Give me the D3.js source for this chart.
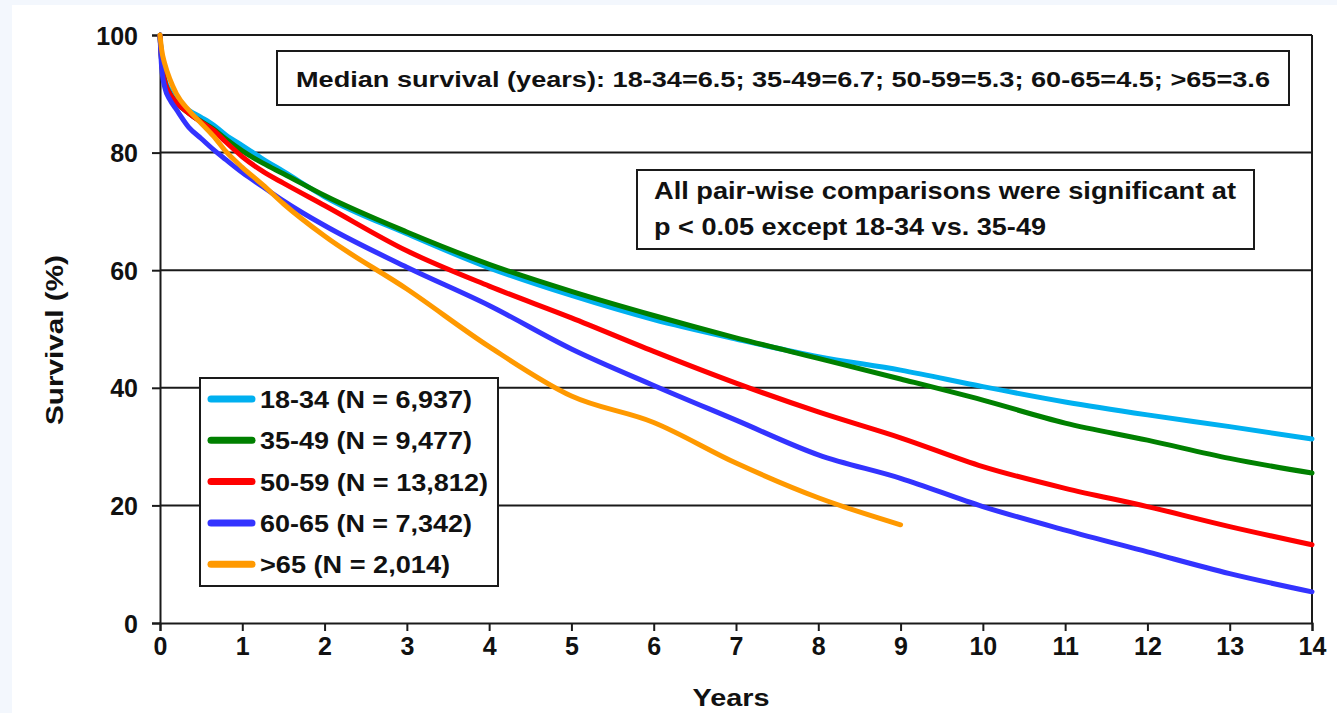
<!DOCTYPE html>
<html>
<head>
<meta charset="utf-8">
<script src="https://cdn.jsdelivr.net/npm/d3@7"></script>
<style>
  html, body { margin: 0; padding: 0; background: #f3f7fd; }
  svg { display: block; }
  text { font-family: "Liberation Sans", Arial, sans-serif; font-weight: bold; fill: #111; }
</style>
</head>
<body>
<svg id="chart" width="1337" height="713"></svg>
<script>
// Survival (%) by years since transplant, one series per age group
const years = [0, 0.02, 0.06, 0.12, 0.2, 0.35, 0.5, 0.65, 0.8, 1, 1.25, 1.5, 2, 3, 4, 5, 6, 7, 8, 9, 10, 11, 12, 13, 14];
const survival18to34 = [100, 96, 92.5, 90.5, 89, 87.2, 86, 84.7, 83, 81.2, 78.9, 76.8, 72.5, 66.2, 60.4, 55.7, 51.6, 48.3, 45.3, 43.0, 40.2, 37.6, 35.4, 33.4, 31.3];
const survival35to49 = [100, 95.5, 92, 90, 88.5, 86.7, 85.3, 84, 82.3, 80.3, 78.2, 76.4, 72.7, 66.5, 61, 56.4, 52.3, 48.5, 45.0, 41.5, 37.9, 34.0, 31.1, 28.0, 25.5];
const survival50to59 = [100, 95.5, 92, 90, 88.5, 86.7, 85.2, 83.8, 81.8, 79.3, 76.8, 74.8, 71, 63.3, 57.3, 51.9, 46.2, 40.8, 35.9, 31.5, 26.6, 22.9, 19.8, 16.4, 13.3];
const survival60to65 = [100, 94.5, 91, 89, 87.3, 84.3, 82.4, 80.5, 78.8, 76.6, 74.2, 71.8, 67.6, 60.5, 54, 46.6, 40.4, 34.5, 28.6, 24.6, 19.8, 15.8, 12.1, 8.4, 5.3];
// the oldest group is followed to year 9 only
const survivalOver65 = [100, 97.5, 95, 92.5, 90, 87.2, 85, 82.8, 80.2, 77.5, 74.5, 71.3, 65.8, 56.8, 47.0, 38.6, 34.1, 27.2, 21.3, 16.7];

const groupLabels = ["18-34 (N = 6,937)", "35-49 (N = 9,477)", "50-59 (N = 13,812)", "60-65 (N = 7,342)", ">65 (N = 2,014)"];
const groupColors = ["#00b0f0", "#008000", "#ff0000", "#3333ff", "#ff9900"];
const groupValues = [survival18to34, survival35to49, survival50to59, survival60to65, survivalOver65];

const xTicks = d3.range(0, 15, 1);
const yTicks = [0, 20, 40, 60, 80, 100];

const medianNote = "Median survival (years): 18-34=6.5; 35-49=6.7; 50-59=5.3; 60-65=4.5; >65=3.6";
const pairNote = ["All pair-wise comparisons were significant at", "p < 0.05 except 18-34 vs. 35-49"];

const svg = d3.select("#chart");

// white page area
svg.append("rect").attr("x", 12).attr("y", 5).attr("width", 1325).attr("height", 708).attr("fill", "#ffffff");

const x = d3.scaleLinear().domain([0, 14]).range([160, 1312]);
const y = d3.scaleLinear().domain([0, 100]).range([623, 35]);

// horizontal gridlines
svg.append("g").selectAll("line").data(yTicks.filter(d => d > 0)).join("line")
  .attr("x1", x(0)).attr("x2", x(14))
  .attr("y1", d => y(d)).attr("y2", d => y(d))
  .attr("stroke", "#1a1a1a").attr("stroke-width", 2);

// right frame edge
svg.append("line").attr("x1", x(14)).attr("x2", x(14)).attr("y1", y(0)).attr("y2", y(100))
  .attr("stroke", "#1a1a1a").attr("stroke-width", 2);

// axes
const xAxis = svg.append("g").attr("transform", `translate(0,${y(0)})`)
  .call(d3.axisBottom(x).tickValues(xTicks).tickFormat(d3.format("d")).tickSize(8).tickPadding(6));
const yAxis = svg.append("g").attr("transform", `translate(${x(0)},0)`)
  .call(d3.axisLeft(y).tickValues(yTicks).tickFormat(d3.format("d")).tickSize(8).tickPadding(14));
[xAxis, yAxis].forEach(g => {
  g.select(".domain").attr("stroke", "#1a1a1a").attr("stroke-width", 2);
  g.selectAll(".tick line").attr("stroke", "#1a1a1a").attr("stroke-width", 2);
  g.selectAll(".tick text").style("font-family", '"Liberation Sans", Arial, sans-serif')
    .style("font-weight", "bold").style("font-size", "25px").attr("fill", "#111");
});
yAxis.selectAll(".tick text").attr("dy", "0.36em");

// axis titles
svg.append("text").attr("x", 731).attr("y", 706).attr("text-anchor", "middle")
  .attr("font-size", 23).attr("textLength", 77).attr("lengthAdjust", "spacingAndGlyphs").text("Years");
svg.append("text").attr("transform", "translate(63,340) rotate(-90)").attr("text-anchor", "middle")
  .attr("font-size", 23).attr("textLength", 170).attr("lengthAdjust", "spacingAndGlyphs").text("Survival (%)");

// survival curves
const line = d3.line().x(d => x(d[0])).y(d => y(d[1])).curve(d3.curveMonotoneX);
svg.append("g").selectAll("path").data(groupValues).join("path")
  .attr("d", vals => line(vals.map((v, i) => [years[i], v])))
  .attr("fill", "none")
  .attr("stroke", (d, i) => groupColors[i])
  .attr("stroke-width", 5)
  .attr("stroke-linejoin", "round")
  .attr("stroke-linecap", "round");

// median survival note
svg.append("rect").attr("x", 277).attr("y", 51).attr("width", 1012).attr("height", 54)
  .attr("fill", "#fff").attr("stroke", "#1a1a1a").attr("stroke-width", 2);
svg.append("text").attr("x", 296).attr("y", 87).attr("font-size", 22)
  .attr("textLength", 974).attr("lengthAdjust", "spacingAndGlyphs").text(medianNote);

// significance note
svg.append("rect").attr("x", 637).attr("y", 170).attr("width", 617).attr("height", 79)
  .attr("fill", "#fff").attr("stroke", "#1a1a1a").attr("stroke-width", 2);
svg.append("text").attr("x", 654).attr("y", 199).attr("font-size", 24)
  .attr("textLength", 582).attr("lengthAdjust", "spacingAndGlyphs").text(pairNote[0]);
svg.append("text").attr("x", 654).attr("y", 235).attr("font-size", 24)
  .attr("textLength", 392).attr("lengthAdjust", "spacingAndGlyphs").text(pairNote[1]);

// legend
const legend = svg.append("g");
legend.append("rect").attr("x", 200).attr("y", 378).attr("width", 298).attr("height", 208)
  .attr("fill", "#fff").attr("stroke", "#1a1a1a").attr("stroke-width", 2);
const legendWidths = [212, 212, 228, 212, 190];
const rows = legend.selectAll("g.row").data(groupLabels).join("g").attr("class", "row")
  .attr("transform", (d, i) => `translate(0,${399 + i * 41.3})`);
rows.append("line").attr("x1", 211).attr("x2", 252).attr("y1", 0).attr("y2", 0)
  .attr("stroke", (d, i) => groupColors[i]).attr("stroke-width", 7).attr("stroke-linecap", "round");
rows.append("text").attr("x", 260).attr("y", 9).attr("font-size", 24)
  .attr("textLength", (d, i) => legendWidths[i]).attr("lengthAdjust", "spacingAndGlyphs")
  .text(d => d);
</script>
</body>
</html>
